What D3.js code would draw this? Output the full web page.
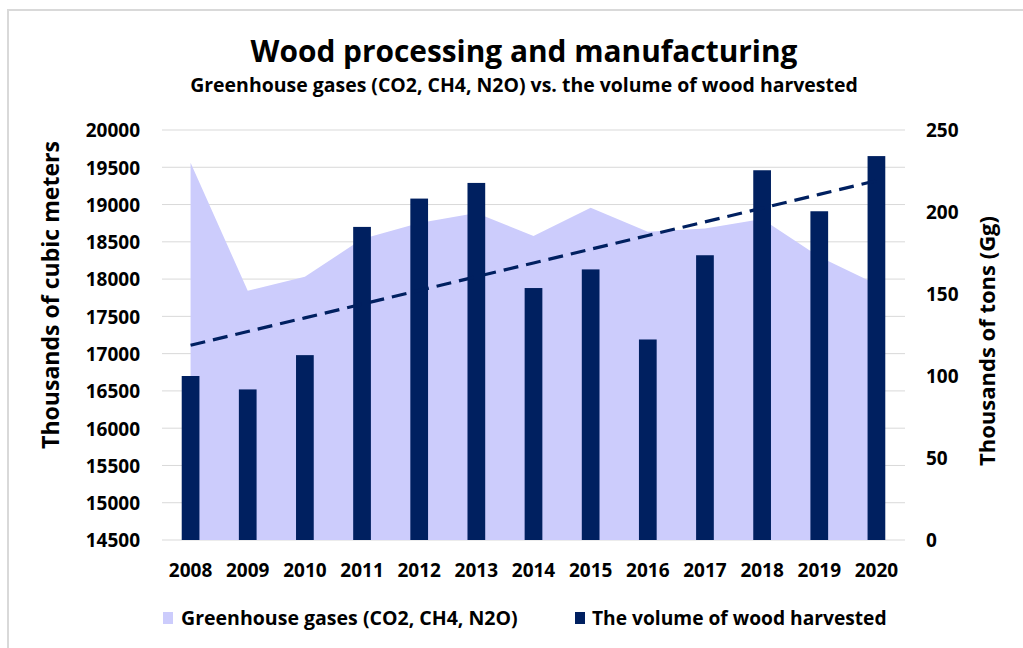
<!DOCTYPE html>
<html>
<head>
<meta charset="utf-8">
<script src="https://cdn.jsdelivr.net/npm/d3@7"></script>
<style>
  html, body { margin: 0; padding: 0; background: #fff; }
  svg text { font-family: "Open Sans", "Noto Sans", sans-serif; font-weight: bold; fill: #000; }
</style>
</head>
<body>
<svg id="chart" width="1023" height="648"></svg>
<script>
// Years on the category axis
const years = ["2008","2009","2010","2011","2012","2013","2014","2015","2016","2017","2018","2019","2020"];
// Volume of wood harvested, thousands of cubic meters (left axis, bars)
const woodHarvested = [16700, 16520, 16980, 18700, 19080, 19290, 17880, 18130, 17190, 18320, 19460, 18910, 19650];
// Greenhouse gases CO2, CH4, N2O, thousands of tons (Gg) (right axis, area)
const greenhouseGases = [230, 152, 160.5, 183.5, 193.3, 199.4, 185.4, 202.6, 188, 190, 195.7, 172.7, 156];
// Axis tick values
const leftTicks = [14500, 15000, 15500, 16000, 16500, 17000, 17500, 18000, 18500, 19000, 19500, 20000];
const rightTicks = [0, 50, 100, 150, 200, 250];

const navy = "#002060";
const lavender = "#ccccfc";
const grid = "#d9d9d9";

const svg = d3.select("#chart");
const W = 1023, H = 648;
const plot = { left: 162, right: 905, top: 130, bottom: 540 };

// Frame line along the top and left edges
svg.append("path")
  .attr("d", `M8,${H} L8,10 L${W},10`)
  .attr("fill", "none").attr("stroke", "#d9d9d9").attr("stroke-width", 2);

const x = d3.scaleBand().domain(years).range([plot.left, plot.right]).padding(0);
const cx = d => x(d) + x.bandwidth() / 2;
const yL = d3.scaleLinear().domain([14500, 20000]).range([plot.bottom, plot.top]);
const yR = d3.scaleLinear().domain([0, 250]).range([plot.bottom, plot.top]);

// Horizontal gridlines
svg.append("g").selectAll("line").data(leftTicks).join("line")
  .attr("x1", plot.left).attr("x2", plot.right)
  .attr("y1", d => yL(d)).attr("y2", d => yL(d))
  .attr("stroke", grid).attr("stroke-width", 1);

// Greenhouse gas area on the right axis
const area = d3.area()
  .x((d, i) => cx(years[i]))
  .y0(yR(0))
  .y1(d => yR(d));
svg.append("path").datum(greenhouseGases)
  .attr("d", area).attr("fill", lavender);

// Wood harvested bars on the left axis
const barW = x.bandwidth() * 0.31;
svg.append("g").selectAll("rect").data(woodHarvested).join("rect")
  .attr("x", (d, i) => cx(years[i]) - barW / 2)
  .attr("width", barW)
  .attr("y", d => yL(d))
  .attr("height", d => yL(14500) - yL(d))
  .attr("fill", navy);

// Linear (least-squares) trendline of the harvested volume
const n = woodHarvested.length;
const mx = d3.mean(d3.range(n));
const my = d3.mean(woodHarvested);
const slope = d3.sum(woodHarvested, (v, i) => (i - mx) * (v - my)) / d3.sum(d3.range(n), i => (i - mx) ** 2);
const trend = d3.range(n).map(i => my + slope * (i - mx));
svg.append("path").datum(trend)
  .attr("d", d3.line().x((d, i) => cx(years[i])).y(d => yL(d)))
  .attr("fill", "none").attr("stroke", navy).attr("stroke-width", 3.2)
  .attr("stroke-dasharray", "15,8");

// Left axis labels
const axL = d3.axisLeft(yL).tickValues(leftTicks).tickSize(0).tickPadding(0).tickFormat(d3.format("d"));
const gL = svg.append("g").attr("transform", "translate(140,0)").call(axL);
gL.select(".domain").remove();
gL.selectAll("text").attr("font-size", 19).attr("font-family", null).attr("dy", "0.36em");

// Right axis labels
const axR = d3.axisRight(yR).tickValues(rightTicks).tickSize(0).tickPadding(0).tickFormat(d3.format("d"));
const gR = svg.append("g").attr("transform", "translate(926,0)").call(axR);
gR.select(".domain").remove();
gR.selectAll("text").attr("font-size", 19).attr("font-family", null).attr("dy", "0.36em");

// Category axis labels
const axB = d3.axisBottom(x).tickSize(0).tickPadding(0);
const gB = svg.append("g").attr("transform", "translate(0,577)").call(axB);
gB.select(".domain").remove();
gB.selectAll("text").attr("font-size", 19).attr("font-family", null).attr("dy", 0);

// Size a text element so it spans the given width
function fitWidth(sel, width) {
  const node = sel.node();
  const fs = parseFloat(sel.attr("font-size"));
  const w = node.getComputedTextLength();
  sel.attr("font-size", (fs * width / w).toFixed(2));
  return sel;
}

// Titles
fitWidth(svg.append("text").attr("x", 524).attr("y", 62).attr("text-anchor", "middle")
  .attr("font-size", 28).text("Wood processing and manufacturing"), 547);
fitWidth(svg.append("text").attr("x", 524).attr("y", 92).attr("text-anchor", "middle")
  .attr("font-size", 18).text("Greenhouse gases (CO2, CH4, N2O) vs. the volume of wood harvested"), 668);

// Axis titles
fitWidth(svg.append("text").attr("transform", "translate(59,295) rotate(-90)").attr("text-anchor", "middle")
  .attr("font-size", 22).text("Thousands of cubic meters"), 308);
fitWidth(svg.append("text").attr("transform", "translate(995,341) rotate(-90)").attr("text-anchor", "middle")
  .attr("font-size", 22).text("Thousands of tons (Gg)"), 250);

// Legend
const legend = svg.append("g");
legend.append("rect").attr("x", 163).attr("y", 612).attr("width", 10).attr("height", 12).attr("fill", lavender);
fitWidth(legend.append("text").attr("x", 181).attr("y", 625).attr("font-size", 18)
  .text("Greenhouse gases (CO2, CH4, N2O)"), 337);
legend.append("rect").attr("x", 575).attr("y", 612).attr("width", 10).attr("height", 12).attr("fill", navy);
fitWidth(legend.append("text").attr("x", 592).attr("y", 625).attr("font-size", 18)
  .text("The volume of wood harvested"), 295);
</script>
</body>
</html>
